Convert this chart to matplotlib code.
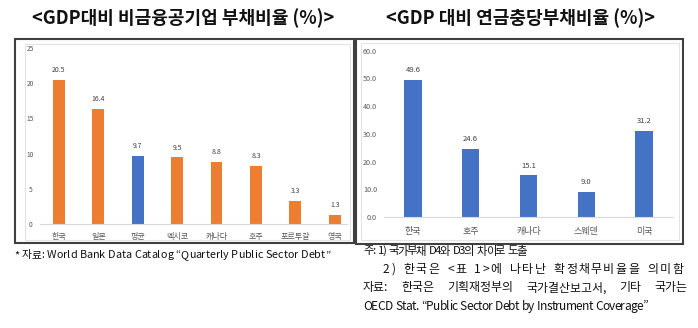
import matplotlib
matplotlib.use("Agg")
import matplotlib.pyplot as plt
from matplotlib.patches import Rectangle

plt.rcParams['font.family'] = ['Noto Sans CJK KR', 'DejaVu Sans']

# Non-financial public corporations' debt (% of GDP)
left_categories = ["한국", "일본", "평균", "멕시코", "캐나다", "호주", "포르투갈", "영국"]
left_values = [20.5, 16.4, 9.7, 9.5, 8.8, 8.3, 3.3, 1.3]
left_highlight = "평균"
left_yticks = [0, 5, 10, 15, 20, 25]

# Pension liabilities (% of GDP)
right_categories = ["한국", "호주", "캐나다", "스웨덴", "미국"]
right_values = [49.6, 24.6, 15.1, 9.0, 31.2]
right_yticks = [0, 10, 20, 30, 40, 50, 60]

left_title = "<GDP대비 비금융공기업 부채비율 (%)>"
right_title = "<GDP 대비 연금충당부채비율 (%)>"
left_note = "* 자료: World Bank Data Catalog \u201cQuarterly Public Sector Debt\u201d"
right_notes = [
    "주: 1) 국가부채 D4와 D3의 차이로 도출",
    "2) 한국은 <표 1>에 나타난 확정채무비율을 의미함",
    "자료: 한국은 기획재정부의 국가결산보고서, 기타 국가는",
    "OECD Stat. \u201cPublic Sector Debt by Instrument Coverage\u201d",
]

ORANGE = "#ED7D31"
BLUE = "#4472C4"
TXT = "#595959"
INK = "#111111"

W, H = 698, 328
fig = plt.figure(figsize=(W / 100, H / 100), dpi=100)
renderer = fig.canvas.get_renderer()


def fx(x):
    return x / W


def fy(y):
    return 1 - y / H


def box(x0, y0, x1, y1, **kw):
    fig.add_artist(Rectangle((fx(x0), fy(y1)), fx(x1) - fx(x0), fy(y0) - fy(y1),
                             transform=fig.transFigure, fill=False, **kw))


def axes_px(x0, y0, x1, y1):
    return fig.add_axes([fx(x0), fy(y1), fx(x1) - fx(x0), fy(y0) - fy(y1)])


def text_width(s, size):
    t = fig.text(0, 0, s, fontsize=size)
    w = t.get_window_extent(renderer).width
    t.remove()
    return w


def pen_offset(s, i, size):
    """Horizontal position where character i of s starts, in pixels."""
    return text_width(s[:i] + "x", size) - text_width("x", size)


def spread_text(s, x0, x1, y, size, by_word=False, space_bonus=0.0):
    """Lay out a line between x0 and x1 pixels, spreading the spare room
    evenly between characters (or between words when by_word is set)."""
    total = text_width(s, size)
    if by_word:
        starts, k = [], 0
        for w in s.split(" "):
            starts.append((k, w))
            k += len(w) + 1
        gap = (x1 - x0 - total) / (len(starts) - 1)
        for j, (i, w) in enumerate(starts):
            fig.text(fx(x0 + pen_offset(s, i, size) + j * gap), fy(y), w,
                     ha="left", va="center", fontsize=size, color=INK)
    else:
        n_space = s.count(" ")
        gap = (x1 - x0 - total - n_space * space_bonus) / (len(s) - 1)
        extra = 0.0
        for i, c in enumerate(s):
            if c == " ":
                extra += space_bonus
                continue
            fig.text(fx(x0 + pen_offset(s, i, size) + i * gap + extra), fy(y), c,
                     ha="left", va="center", fontsize=size, color=INK)


# outer frames and faint chart-area frames
box(15, 39, 354, 243, edgecolor="#404040", linewidth=1.5)
box(356, 39, 683, 243.5, edgecolor="#404040", linewidth=1.5)
box(25, 44, 350, 240, edgecolor="#E3E3E3", linewidth=0.8)
box(361, 43, 679, 240, edgecolor="#E3E3E3", linewidth=0.8)


def style_axes(ax):
    for s in ("top", "right", "left"):
        ax.spines[s].set_visible(False)
    ax.spines["bottom"].set_color("#D9D9D9")
    ax.spines["bottom"].set_linewidth(0.8)
    ax.tick_params(axis="both", length=0, colors=TXT)
    ax.set_facecolor("none")


# left chart
axl = axes_px(40, 48, 347, 224)
xl = range(len(left_categories))
colors = [BLUE if c == left_highlight else ORANGE for c in left_categories]
axl.bar(xl, left_values, width=0.3, color=colors)
axl.set_xlim(-0.48, 7.31)
axl.set_ylim(0, 25)
axl.set_yticks(left_yticks)
axl.set_yticklabels([str(v) for v in left_yticks], fontsize=4.8, ha="center")
axl.tick_params(axis="y", pad=7)
axl.set_xticks(list(xl))
axl.set_xticklabels(left_categories, fontsize=5.8)
axl.tick_params(axis="x", pad=6)
style_axes(axl)
for x, v in zip(xl, left_values):
    axl.annotate(f"{v:.1f}", (x, v), xytext=(0, 4), textcoords="offset points",
                 ha="center", va="bottom", fontsize=5, color="#404040")

# right chart
axr = axes_px(384, 50.7, 673, 217)
xr = range(len(right_categories))
axr.bar(xr, right_values, width=0.3, color=BLUE)
axr.set_xlim(-0.5, 4.5)
axr.set_ylim(0, 60)
axr.set_yticks(right_yticks)
axr.set_yticklabels([f"{v:.1f}" for v in right_yticks], fontsize=5.2)
axr.tick_params(axis="y", pad=5)
axr.set_xticks(list(xr))
axr.set_xticklabels(right_categories, fontsize=6.5)
axr.tick_params(axis="x", pad=7)
style_axes(axr)
for x, v in zip(xr, right_values):
    axr.annotate(f"{v:.1f}", (x, v), xytext=(0, 4), textcoords="offset points",
                 ha="center", va="bottom", fontsize=5.5, color="#404040")

# titles
fig.text(fx(183), fy(18), left_title, ha="center", va="center",
         fontsize=13, fontweight="bold", color=INK)
fig.text(fx(520), fy(18), right_title, ha="center", va="center",
         fontsize=13, fontweight="bold", color=INK)

# notes
spread_text(left_note, 14, 330, 255, 7.8)
spread_text(right_notes[0], 363, 527, 251, 8.2, space_bonus=2.5)
spread_text(right_notes[1], 383, 683, 269.5, 8.6, space_bonus=2.5)
spread_text(right_notes[2], 363, 687, 288, 8.6, by_word=True)
spread_text(right_notes[3], 363, 648, 306.5, 8.6, space_bonus=1.0)

fig.savefig("out.png", dpi=100)
